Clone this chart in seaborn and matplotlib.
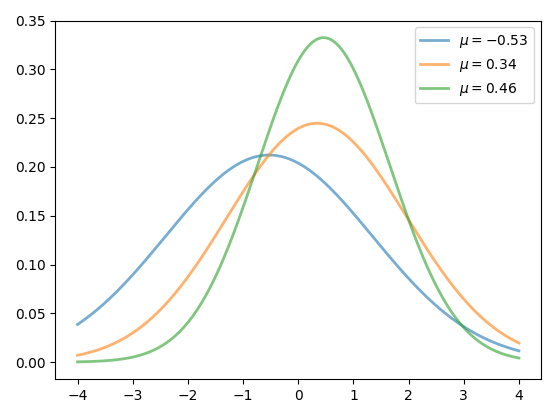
import numpy as np
import pandas as pd
import matplotlib
matplotlib.use("Agg")
import matplotlib.pyplot as plt
import seaborn as sns

mus = [-0.53, 0.34, 0.46]
sigmas = [1.88, 1.63, 1.20]
labels = [r"$\mu = -0.53$", r"$\mu = 0.34$", r"$\mu = 0.46$"]

x = np.linspace(-4, 4, 200)
frames = []
for m, s, lab in zip(mus, sigmas, labels):
    y = np.exp(-0.5 * ((x - m) / s) ** 2) / (s * np.sqrt(2 * np.pi))
    frames.append(pd.DataFrame({"x": x, "y": y, "label": lab}))
df = pd.concat(frames)

fig, ax = plt.subplots(figsize=(5.56, 4.18), dpi=100)
sns.lineplot(data=df, x="x", y="y", hue="label", palette=["tab:blue", "tab:orange", "tab:green"],
             alpha=0.6, linewidth=2, ax=ax)
ax.set_xlabel("")
ax.set_ylabel("")
ax.set_ylim(-0.0175, 0.35)
ax.set_xticks(range(-4, 5))
ax.legend(title=None, loc="upper right")
fig.tight_layout()
fig.savefig("out.png")
